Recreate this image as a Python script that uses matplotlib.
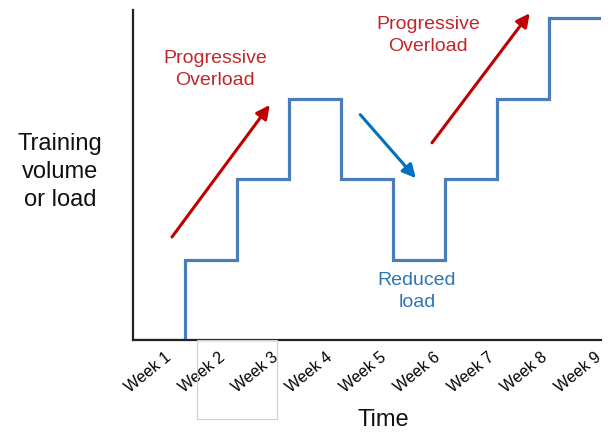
import numpy as np
import matplotlib
matplotlib.use("Agg")
import matplotlib.pyplot as plt
from matplotlib.patches import Rectangle

plt.rcParams["font.family"] = ["Liberation Sans", "DejaVu Sans"]

# data
weeks = ["Week 1", "Week 2", "Week 3", "Week 4", "Week 5",
         "Week 6", "Week 7", "Week 8", "Week 9"]
load = [0, 1, 2, 3, 2, 1, 2, 3, 4]

W, H = 610, 432
fig = plt.figure(figsize=(W / 100, H / 100), dpi=100)
ax = fig.add_axes([133 / W, 1 - 340 / H, (601 - 133) / W, (340 - 10) / H])

# step line, each week spans one unit
x = np.arange(len(load) + 1)
y = load + [load[-1]]
ax.step(x, y, where="post", color="#4a7ebb", lw=2.3, solid_joinstyle="miter")

ax.set_xlim(0, len(load))
ax.set_ylim(0, 4.1)
for s in ["top", "right"]:
    ax.spines[s].set_visible(False)
for s in ["left", "bottom"]:
    ax.spines[s].set_linewidth(1.6)
    ax.spines[s].set_color("#222222")
ax.set_yticks([])

tick_pos = 0.6 + 1.035 * np.arange(len(weeks))
ax.set_xticks(tick_pos)
ax.set_xticklabels(weeks, rotation=39, ha="right", va="top",
                   rotation_mode="anchor", fontsize=11.5)
ax.tick_params(axis="x", length=0, pad=7)

red = "#c00000"
blue = "#0070c0"
arrow_kw = dict(arrowstyle="-|>", lw=2.2, mutation_scale=20, shrinkA=0, shrinkB=0)

ax.annotate("", xy=(2.63, 2.92), xytext=(0.75, 1.28),
            arrowprops=dict(color=red, **arrow_kw))
ax.annotate("", xy=(7.63, 4.06), xytext=(5.75, 2.45),
            arrowprops=dict(color=red, **arrow_kw), annotation_clip=False)
ax.annotate("", xy=(5.44, 2.01), xytext=(4.37, 2.8),
            arrowprops=dict(color=blue, **arrow_kw))

ax.text(1.58, 3.36, "Progressive\nOverload", color="#c0272d", fontsize=14,
        ha="center", va="center", linespacing=1.4)
ax.text(5.67, 3.78, "Progressive\nOverload", color="#c0272d", fontsize=14,
        ha="center", va="center", linespacing=1.4)
ax.text(5.46, 0.6, "Reduced\nload", color="#2e75b6", fontsize=14,
        ha="center", va="center", linespacing=1.4)

fig.text(60 / W, 1 - 172 / H, "Training\nvolume\nor load", fontsize=17,
         ha="center", va="center", color="#111111", linespacing=1.35)
fig.text(383 / W, 1 - 420 / H, "Time", fontsize=17, ha="center", va="center",
         color="#111111")

# faint box around the week 2-3 labels
fig.patches.append(Rectangle((197 / W, 1 - 419 / H), 80 / W, 79 / H,
                             transform=fig.transFigure, fill=False,
                             edgecolor="#cfcfcf", lw=0.8))

fig.savefig("out.png", dpi=100)
